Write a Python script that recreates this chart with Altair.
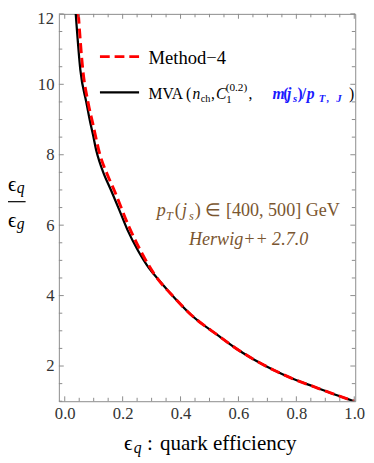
import altair as alt
import pandas as pd

# ---- data ----
mva_x = [0.038, 0.054, 0.075, 0.088, 0.098, 0.108, 0.12, 0.133, 0.161, 0.189, 0.217, 0.251, 0.291, 0.324, 0.381, 0.437, 0.533, 0.588, 0.65, 0.723, 0.79, 0.858, 0.93, 1.0]
mva_y = [12.0, 10.4, 9.47, 8.92, 8.55, 8.15, 7.8, 7.5, 6.97, 6.42, 5.86, 5.31, 4.78, 4.45, 3.92, 3.45, 2.85, 2.52, 2.2, 1.88, 1.63, 1.42, 1.2, 1.0]
m4_x = [0.047, 0.062, 0.081, 0.096, 0.122, 0.146, 0.172, 0.222, 0.266, 0.31, 0.381, 0.437, 0.533, 0.588, 0.65, 0.723, 0.79, 0.858, 0.93, 1.0]
m4_y = [12.0, 10.45, 9.47, 8.92, 7.99, 7.46, 6.97, 5.95, 5.21, 4.6, 3.92, 3.45, 2.85, 2.52, 2.2, 1.88, 1.63, 1.42, 1.2, 1.0]

x_labels = [0.0, 0.2, 0.4, 0.6, 0.8, 1.0]
y_labels = [2, 4, 6, 8, 10]
y_top_label = "12"
y_majors = [2, 4, 6, 8, 10, 12]
x_minor = [round(i * 0.05, 2) for i in range(21)]
y_minor = [1 + i * 0.5 for i in range(23)]

W, H = 303, 396
FONT = "Liberation Serif"
FRAME = "#8a8a8a"
LBL = "#333333"

xs = alt.Scale(domain=[-0.0203, 1.0034], nice=False, zero=False)
ys = alt.Scale(domain=[1, 12], nice=False, zero=False)

mva = pd.DataFrame({"x": mva_x, "y": mva_y})
m4 = pd.DataFrame({"x": m4_x, "y": m4_y})

xaxis = alt.Axis(values=x_labels, format=".1f", ticks=False, domain=False, grid=False,
                 labelFont=FONT, labelFontSize=17, labelColor=LBL, labelPadding=5, title=None)
yaxis = alt.Axis(values=y_labels, format="d", ticks=False, domain=False, grid=False,
                 labelFont=FONT, labelFontSize=17, labelColor=LBL, labelPadding=5, title=None)

X = alt.X("x:Q", scale=xs, axis=xaxis)
Y = alt.Y("y:Q", scale=ys, axis=yaxis)

black = alt.Chart(mva).mark_line(color="black", strokeWidth=2.3, interpolate="monotone", clip=True).encode(x=X, y=Y)
red = alt.Chart(m4).mark_line(color="#ff0000", strokeWidth=3, strokeDash=[10, 5], interpolate="monotone", clip=True).encode(x=X, y=Y)

layers = [black, red]

# ---- inward ticks on all four sides ----
def xticks(vals, ln):
    d = pd.DataFrame({"x": vals})
    b = alt.Chart(d).mark_rule(color=FRAME, strokeWidth=1).encode(x=X, y=alt.value(H), y2=alt.value(H - ln))
    t = alt.Chart(d).mark_rule(color=FRAME, strokeWidth=1).encode(x=X, y=alt.value(0), y2=alt.value(ln))
    return [b, t]

def yticks(vals, ln):
    d = pd.DataFrame({"y": vals})
    l = alt.Chart(d).mark_rule(color=FRAME, strokeWidth=1).encode(y=Y, x=alt.value(0), x2=alt.value(ln))
    r = alt.Chart(d).mark_rule(color=FRAME, strokeWidth=1).encode(y=Y, x=alt.value(W), x2=alt.value(W - ln))
    return [l, r]

layers += xticks([v for v in x_minor if round(v / 0.2, 6) % 1 != 0], 3.5)
layers += xticks(x_labels, 5)
layers += yticks([v for v in y_minor if v not in y_majors], 3.5)
layers += yticks(y_majors, 5)

dummy = pd.DataFrame({"a": [0]})

def txt(s, x, y, size, style="normal", weight="normal", color="black", font=FONT, align="left", baseline="alphabetic"):
    return alt.Chart(dummy).mark_text(text=s, align=align, baseline=baseline, font=font, fontSize=size,
                                      fontStyle=style, fontWeight=weight, color=color).encode(
        x=alt.value(x), y=alt.value(y))

def hline(x1, x2, y, color, width, dash=None):
    kw = dict(color=color, strokeWidth=width)
    if dash:
        kw["strokeDash"] = dash
    return alt.Chart(dummy).mark_rule(**kw).encode(x=alt.value(x1), x2=alt.value(x2), y=alt.value(y))

# top y label kept inside the page
layers.append(txt(y_top_label, -5, 5, 17, color=LBL, align="right", baseline="middle"))

# ---- legend ----
layers.append(hline(42, 82, 43.7, "#ff0000", 3, [10, 5]))
layers.append(hline(42, 82, 80.3, "black", 2.3))
layers.append(txt("Method\u22124", 91.7, 51.7, 19))

BL = 87.5
BLUE = "#1a1aff"
layers += [
    txt("MVA (", 91.7, BL, 16),
    txt("n", 136.7, BL, 16, style="italic"),
    txt("ch", 145, BL + 3, 10.5),
    txt(",", 155.5, BL, 16),
    txt("C", 160.7, BL, 16, style="italic"),
    txt("1", 171, BL + 3.5, 11),
    txt("(0.2)", 170.5, BL - 8.5, 11.5),
    txt(",", 194, BL, 16),
    txt("m", 218.3, BL, 16, style="italic", weight="bold", color=BLUE),
    txt("(", 229.3, BL, 16, weight="bold", color=BLUE),
    txt("j", 233.3, BL, 16, style="italic", weight="bold", color=BLUE),
    txt("s", 239.3, BL + 3, 11, style="italic", weight="bold", color=BLUE),
    txt(")", 244, BL, 16, weight="bold", color=BLUE),
    txt("/", 248.3, BL, 16, weight="bold", color=BLUE),
    txt("p", 253.3, BL, 16, style="italic", weight="bold", color=BLUE),
    txt("T", 265.7, BL + 3, 11, style="italic", weight="bold", color=BLUE),
    txt(",", 274, BL + 3, 11, style="italic", weight="bold", color=BLUE),
    txt("J", 283.5, BL + 3, 11, style="italic", weight="bold", color=BLUE),
    txt(")", 296.7, BL, 16),
]

# ---- annotation ----
BROWN = "#7a5630"
AB = 206.5
AS = 18.5
layers += [
    txt("p", 100, AB, AS, style="italic", color=BROWN),
    txt("T", 109.5, AB + 4, 12.5, style="italic", color=BROWN),
    txt("(", 118.5, AB, AS, color=BROWN),
    txt("j", 126, AB, AS, style="italic", color=BROWN),
    txt("s", 133, AB + 4, 12.5, style="italic", color=BROWN),
    txt(") \u2208 [400, 500] GeV", 139, AB, AS, color=BROWN),
    txt("Herwig++ 2.7.0", 133, 236, AS, style="italic", color=BROWN),
]

# ---- y title: eps_q / eps_g ----
layers += [
    txt("\u03f5", -52, 181, 21),
    txt("q", -43, 183, 16, style="italic"),
    hline(-52, -34, 192, "black", 1.2),
    txt("\u03f5", -52, 218, 21),
    txt("g", -43, 220, 16, style="italic"),
]

# ---- x title ----
layers += [
    txt("\u03f5", 66.7, 446, 21.5),
    txt("q", 76.5, 449, 16, style="italic"),
    txt(":", 90, 446, 21.5),
    txt("quark efficiency", 103.3, 446, 21.5),
]

chart = alt.layer(*layers).properties(
    width=W, height=H,
    autosize=alt.AutoSizeParams(type="none"),
    padding={"left": 52, "top": 1, "right": 11, "bottom": 52},
).configure_view(stroke=FRAME, strokeWidth=1).configure_axis(labelFont=FONT, labelFontSize=17, labelColor=LBL)

chart.save("out.html", embed_options={"renderer": "svg", "actions": False})
